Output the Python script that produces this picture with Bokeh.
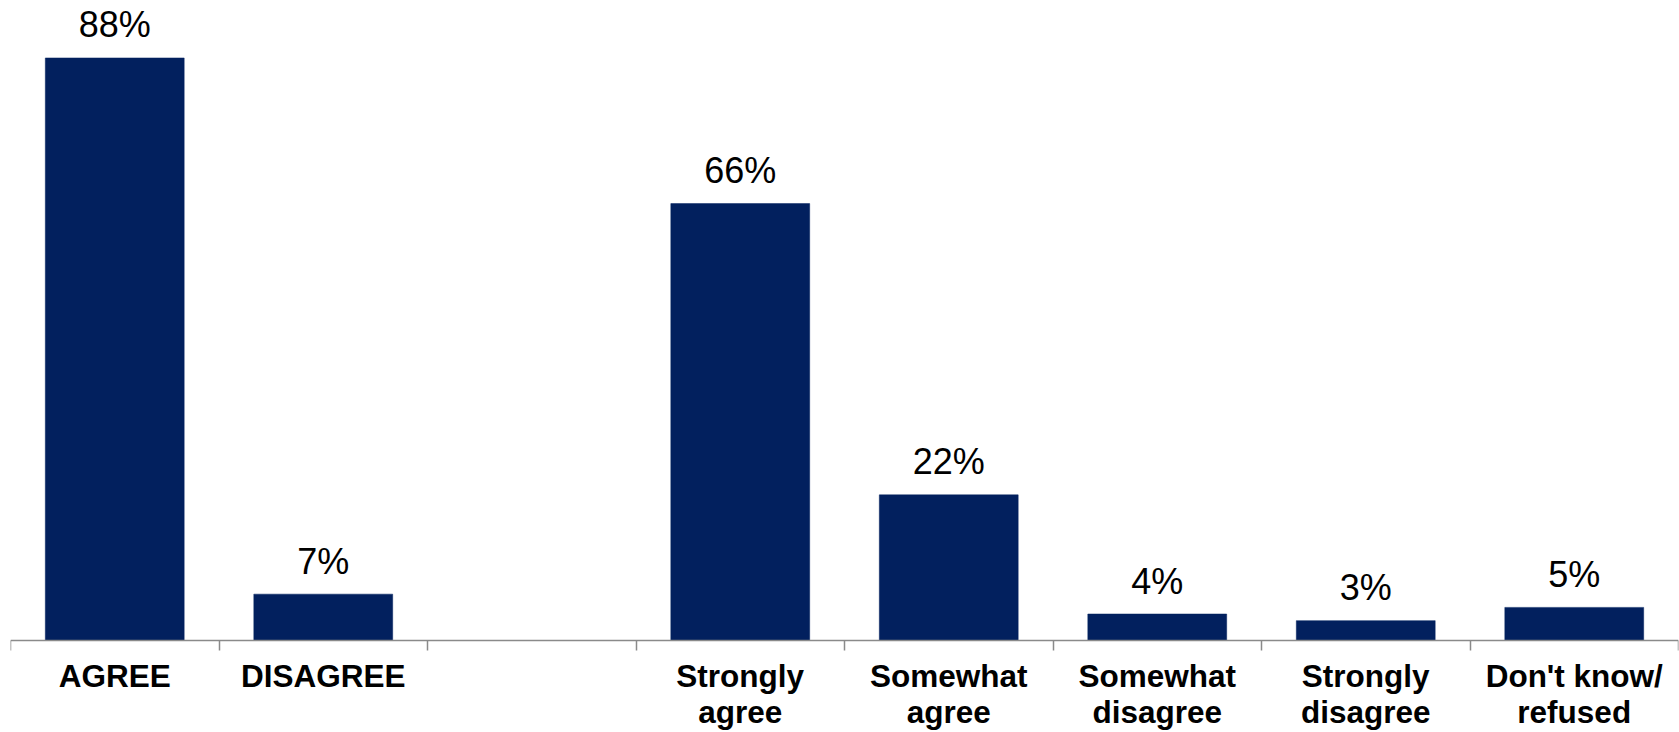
import numpy as np
from bokeh.plotting import figure
from bokeh.models import ColumnDataSource, Range1d, FixedTicker
from bokeh.core.properties import value
from bokeh.embed import file_html
from bokeh.resources import INLINE

categories = ["AGREE", "DISAGREE", "", "Strongly\nagree", "Somewhat\nagree",
              "Somewhat\ndisagree", "Strongly\ndisagree", "Don't know/\nrefused"]
values = [88, 7, None, 66, 22, 4, 3, 5]

BAR_COLOR = "#02205E"
AXIS_COLOR = "#8a8a8a"
FONT = "Liberation Sans"

idx = [i for i, v in enumerate(values) if v is not None]
centers = [i + 0.5 for i in idx]
vals = [values[i] for i in idx]
src = ColumnDataSource(dict(x=centers, top=vals, label=[f"{v}%" for v in vals]))

# frame spans the whole figure; the x axis sits at y=0 inside it
p = figure(width=1679, height=732, x_range=Range1d(0, len(categories)),
           y_range=Range1d(-13.9, 96.68), output_backend="svg", toolbar_location=None,
           y_axis_location=None, min_border_left=10, min_border_right=1,
           min_border_top=0, min_border_bottom=0)
p.outline_line_color = None
p.grid.visible = False

p.vbar(x="x", top="top", width=0.666, bottom=0, source=src,
       fill_color=BAR_COLOR, line_color=BAR_COLOR, line_width=0.5)
p.text(x="x", y="top", text="label", source=src, text_align="center",
       text_baseline="alphabetic", y_offset=-33, text_font=value(FONT),
       text_font_size="36px", text_color="black")

ax = p.xaxis[0]
ax.fixed_location = 0
ax.ticker = FixedTicker(ticks=centers, minor_ticks=list(range(len(categories) + 1)))
ax.major_label_overrides = {c: categories[i] for c, i in zip(centers, idx)}
ax.major_tick_out = 0
ax.major_tick_in = 0
ax.major_tick_line_color = None
ax.minor_tick_out = 10
ax.minor_tick_in = 0
ax.minor_tick_line_color = AXIS_COLOR
ax.minor_tick_line_width = 1.5
ax.axis_line_color = AXIS_COLOR
ax.axis_line_width = 1.5
ax.major_label_standoff = 8
ax.major_label_text_font = FONT
ax.major_label_text_font_style = "bold"
ax.major_label_text_font_size = "31.5px"
ax.major_label_text_color = "black"
ax.major_label_text_line_height = 0.98

open("out.html", "w").write(file_html(p, INLINE))
